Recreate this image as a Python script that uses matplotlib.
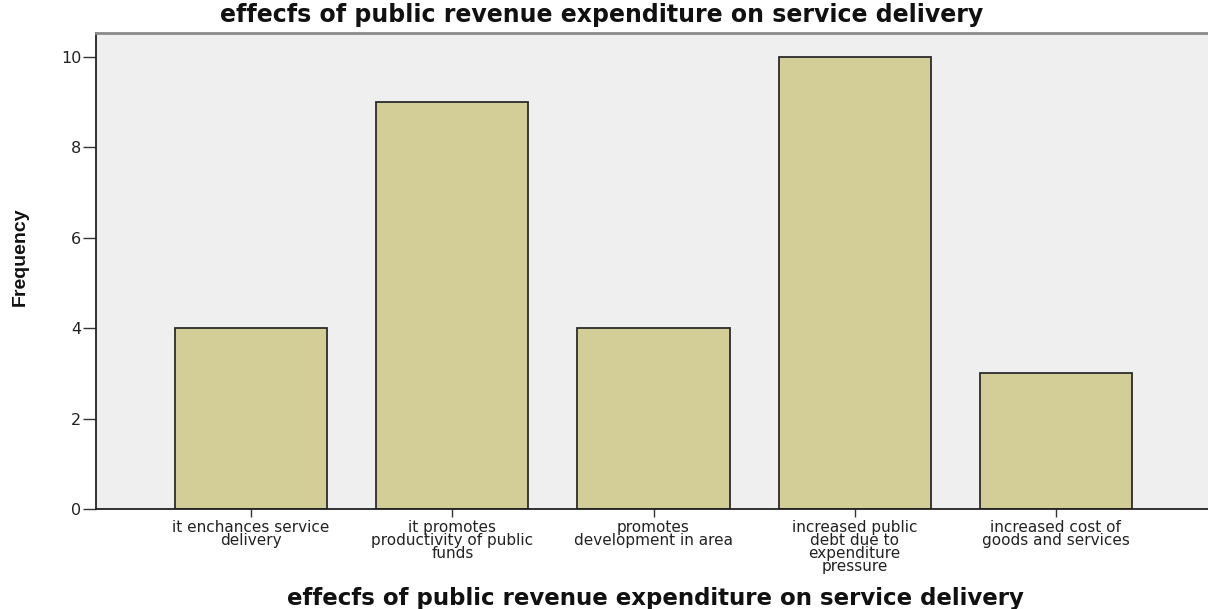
import matplotlib
matplotlib.use("Agg")
from matplotlib import pyplot as plt
import numpy as np


categories = [
    "it enchances service\ndelivery",
    "it promotes\nproductivity of public\nfunds",
    "promotes\ndevelopment in area",
    "increased public\ndebt due to\nexpenditure\npressure",
    "increased cost of\ngoods and services",
]
frequency = [4, 9, 4, 10, 3]
y_ticks = [0, 2, 4, 6, 8, 10]

title_text = "effecfs of public revenue expenditure on service delivery"

W, H = 1208, 609
fig = plt.figure(figsize=(W / 100, H / 100), dpi=100)
fig.patch.set_facecolor("white")

# plot area in pixels: left 96, top 33, bottom 509, runs off the right edge
ax = fig.add_axes([96 / W, 1 - 509 / H, 1 - 96 / W, (509 - 33) / H])
ax.set_facecolor("#efefef")

x = np.arange(len(categories))
ax.bar(x, frequency, width=0.756, color="#d3ce97", edgecolor="#2b2b2b",
       linewidth=1.3, zorder=2)

ax.set_xlim(-0.771, 4.756)
ax.set_ylim(0, 10.53)

ax.set_yticks(y_ticks)
ax.set_yticklabels([str(v) for v in y_ticks], fontsize=11.5,
                   family="DejaVu Sans", color="#222222")
ax.tick_params(axis="y", length=9.5, width=1.0, color="#333333", pad=1)

ax.set_xticks(x)
ax.set_xticklabels(categories, fontsize=11, family="DejaVu Sans",
                   color="#222222", linespacing=0.84)
ax.tick_params(axis="x", length=6, width=1.0, color="#333333", pad=2)

for side in ["left", "bottom"]:
    ax.spines[side].set_color("#222222")
    ax.spines[side].set_linewidth(1.3)
ax.spines["top"].set_color("#8a8a8a")
ax.spines["top"].set_linewidth(2)
ax.spines["right"].set_visible(False)

fig.text(602 / W, 1 - 15 / H, title_text, ha="center", va="center",
         fontsize=17, fontweight="bold", family="DejaVu Sans", color="#111111")
fig.text(655 / W, 1 - 598 / H, title_text, ha="center", va="center",
         fontsize=16.5, fontweight="bold", family="DejaVu Sans", color="#111111")
fig.text(20 / W, 1 - 257 / H, "Frequency", rotation=90, ha="center",
         va="center", fontsize=14, fontweight="bold",
         family="Liberation Sans", color="#111111")

fig.savefig("out.png", dpi=100)
